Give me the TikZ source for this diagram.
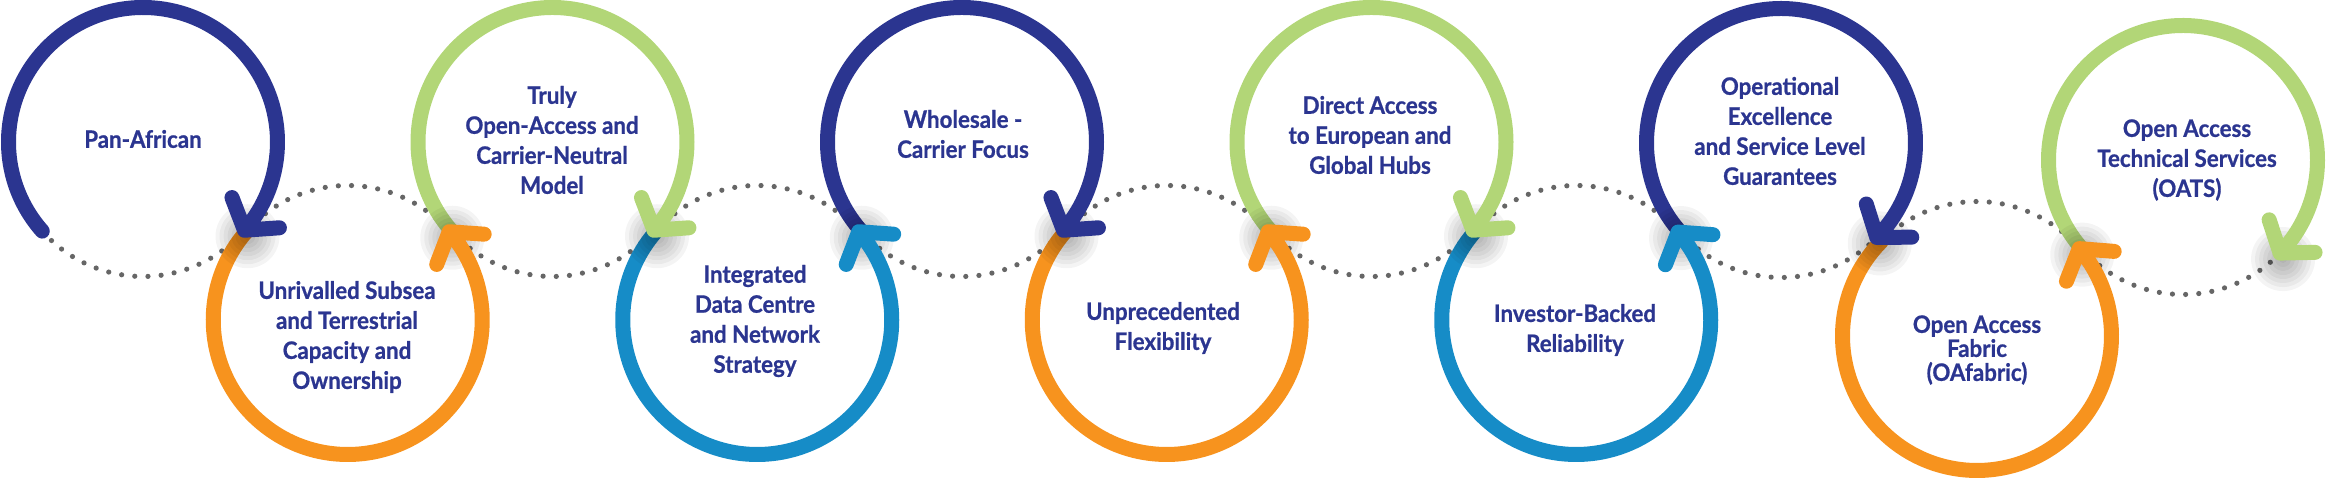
\documentclass[tikz,border=0pt]{standalone}
\usepackage{fontspec}
\setmainfont{Lato}[FakeStretch=0.93, BoldFeatures={FakeBold=0.8}]
\usepackage{tikz}
\usetikzlibrary{calc}

\definecolor{navyc}{HTML}{2B3590}
\definecolor{orangec}{HTML}{F7931E}
\definecolor{greenc}{HTML}{B2D677}
\definecolor{bluec}{HTML}{168CC7}
\definecolor{dotc}{HTML}{666666}

% soft grey shadow under each hand-over point
\newcommand{\softshadow}[1]{%
  \foreach \rr in {4,8,...,32} \fill[black, fill opacity=0.045] (#1) circle[radius=\rr];}

\begin{document}
\begin{tikzpicture}[
  x=0.5pt, y=0.5pt,
  ring/.style={line width=7.5pt, line cap=round, line join=round},
  dots/.style={dotc, line width=2.6pt, line cap=round, dash pattern=on 0pt off 6.6pt},
  lbl/.style={align=center, text=navyc, inner sep=0pt,
              font=\fontsize{12}{15}\selectfont\bfseries}
]
\useasboundingbox (0,0) rectangle (2326,480);

% circle centres
\coordinate (c1) at (143,338);
\coordinate (c2) at (347.75,160);
\coordinate (c3) at (552.5,338);
\coordinate (c4) at (757.25,160);
\coordinate (c5) at (962,338);
\coordinate (c6) at (1166.75,160);
\coordinate (c7) at (1371.5,338);
\coordinate (c8) at (1576.25,160);
\coordinate (c9) at (1781,337);
\coordinate (c10) at (1977,144);
\coordinate (c11) at (2183,320);

% where one ring hands over to the next
\coordinate (j12) at ($(c1)+(-41:134.5)$);
\coordinate (j23) at ($(c2)+(41:134.5)$);
\coordinate (j34) at ($(c3)+(-41:134.5)$);
\coordinate (j45) at ($(c4)+(41:134.5)$);
\coordinate (j56) at ($(c5)+(-41:134.5)$);
\coordinate (j67) at ($(c6)+(41:134.5)$);
\coordinate (j78) at ($(c7)+(-41:134.5)$);
\coordinate (j89) at ($(c8)+(40.8:134.5)$);
\coordinate (j910) at ($(c9)+(-44.6:134.5)$);
\coordinate (j1011) at ($(c10)+(40.5:134.5)$);
\coordinate (jend) at ($(c11)+(-43.8:134.5)$);

% dotted inner gaps
\draw[dots] ($(c1)+(221.5:134.5)$) arc[start angle=221.5, end angle=319, radius=134.5];
\draw[dots] ($(c2)+(139:134.5)$) arc[start angle=139, end angle=41, radius=134.5];
\draw[dots] ($(c3)+(221:134.5)$) arc[start angle=221, end angle=319, radius=134.5];
\draw[dots] ($(c4)+(139:134.5)$) arc[start angle=139, end angle=41, radius=134.5];
\draw[dots] ($(c5)+(221:134.5)$) arc[start angle=221, end angle=319, radius=134.5];
\draw[dots] ($(c6)+(139:134.5)$) arc[start angle=139, end angle=41, radius=134.5];
\draw[dots] ($(c7)+(221:134.5)$) arc[start angle=221, end angle=319, radius=134.5];
\draw[dots] ($(c8)+(139:134.5)$) arc[start angle=139, end angle=40.8, radius=134.5];
\draw[dots] ($(c9)+(220.8:134.5)$) arc[start angle=220.8, end angle=315.4, radius=134.5];
\draw[dots] ($(c10)+(135.4:134.5)$) arc[start angle=135.4, end angle=40.5, radius=134.5];
\draw[dots] ($(c11)+(220.5:134.5)$) arc[start angle=220.5, end angle=316.2, radius=134.5];

% rings, last one first so each arrow lies over the next start
\softshadow{$(jend)+(3,-6)$}
\draw[ring, greenc] ($(c11)+(220.5:134.5)$) arc[start angle=220.5, end angle=-43.8, radius=134.5]
  ($(jend)+(108.2:35)$) -- (jend) -- +(1.2:35);
\softshadow{$(j1011)+(3,-6)$}
\draw[ring, orangec] ($(c10)+(135.4:134.5)$) arc[start angle=135.4, end angle=400.5, radius=134.5]
  ($(j1011)+(248.5:35)$) -- (j1011) -- +(-4.5:35);
\softshadow{$(j910)+(3,-6)$}
\draw[ring, navyc] ($(c9)+(220.8:134.5)$) arc[start angle=220.8, end angle=-44.6, radius=134.5]
  ($(j910)+(107.4:35)$) -- (j910) -- +(0.4:35);
\softshadow{$(j89)+(3,-6)$}
\draw[ring, bluec] ($(c8)+(139:134.5)$) arc[start angle=139, end angle=400.8, radius=134.5]
  ($(j89)+(248.8:35)$) -- (j89) -- +(-4.2:35);
\softshadow{$(j78)+(3,-6)$}
\draw[ring, greenc] ($(c7)+(221:134.5)$) arc[start angle=221, end angle=-41, radius=134.5]
  ($(j78)+(111:35)$) -- (j78) -- +(4:35);
\softshadow{$(j67)+(3,-6)$}
\draw[ring, orangec] ($(c6)+(139:134.5)$) arc[start angle=139, end angle=401, radius=134.5]
  ($(j67)+(249:35)$) -- (j67) -- +(-4:35);
\softshadow{$(j56)+(3,-6)$}
\draw[ring, navyc] ($(c5)+(221:134.5)$) arc[start angle=221, end angle=-41, radius=134.5]
  ($(j56)+(111:35)$) -- (j56) -- +(4:35);
\softshadow{$(j45)+(3,-6)$}
\draw[ring, bluec] ($(c4)+(139:134.5)$) arc[start angle=139, end angle=401, radius=134.5]
  ($(j45)+(249:35)$) -- (j45) -- +(-4:35);
\softshadow{$(j34)+(3,-6)$}
\draw[ring, greenc] ($(c3)+(221:134.5)$) arc[start angle=221, end angle=-41, radius=134.5]
  ($(j34)+(111:35)$) -- (j34) -- +(4:35);
\softshadow{$(j23)+(3,-6)$}
\draw[ring, orangec] ($(c2)+(139:134.5)$) arc[start angle=139, end angle=401, radius=134.5]
  ($(j23)+(249:35)$) -- (j23) -- +(-4:35);
\softshadow{$(j12)+(3,-6)$}
\draw[ring, navyc] ($(c1)+(221.5:134.5)$) arc[start angle=221.5, end angle=-41, radius=134.5]
  ($(j12)+(111:35)$) -- (j12) -- +(4:35);

% labels
\node[lbl] (panaf) at (143,341) {Pan-African};
\node[lbl] (subsea) at (347,143) {Unrivalled Subsea\\and Terrestrial\\Capacity and\\Ownership};
\node[lbl] (openacc) at (552,340) {Truly\\Open-Access and\\Carrier-Neutral\\Model};
\node[lbl] (datactr) at (755,159) {Integrated\\Data Centre\\and Network\\Strategy};
\node[lbl] (whsale) at (963,346) {Wholesale -\\Carrier Focus};
\node[lbl] (flexi) at (1163,152) {Unprecedented\\Flexibility};
\node[lbl] (euhubs) at (1370,345) {Direct Access\\to European and\\Global Hubs};
\node[lbl] (invest) at (1575,150) {Investor-Backed\\Reliability};
\node[lbl] (opexc) at (1780,349) {Operational\\Excellence\\and Service Level\\Guarantees};
\node[lbl, font=\fontsize{12}{12}\selectfont\bfseries] (oafab) at (1977,130) {Open Access\\Fabric\\(OAfabric)};
\node[lbl] (oats) at (2187,320) {Open Access\\Technical Services\\(OATS)};
\end{tikzpicture}
\end{document}
